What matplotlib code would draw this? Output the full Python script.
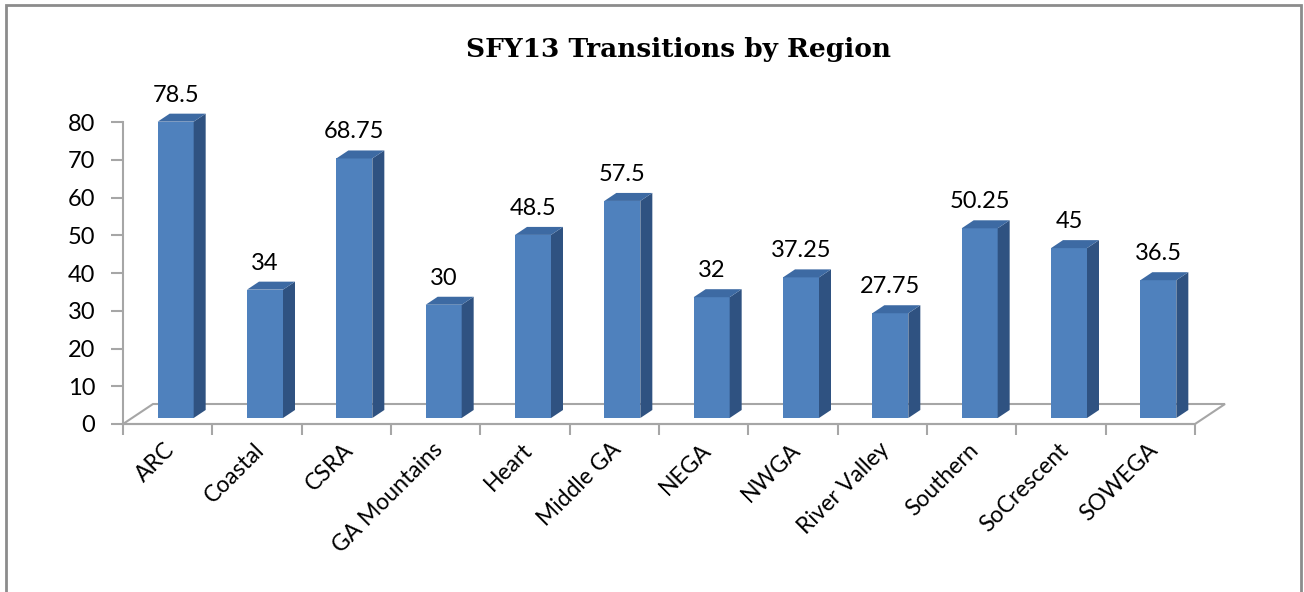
import matplotlib.pyplot as plt
from matplotlib.patches import Polygon, Rectangle

regions = ['ARC', 'Coastal', 'CSRA', 'GA Mountains', 'Heart', 'Middle GA', 'NEGA',
           'NWGA', 'River Valley', 'Southern', 'SoCrescent', 'SOWEGA']
transitions = [78.5, 34, 68.75, 30, 48.5, 57.5, 32, 37.25, 27.75, 50.25, 45, 36.5]
value_labels = ['78.5', '34', '68.75', '30', '48.5', '57.5', '32', '37.25', '27.75',
                '50.25', '45', '36.5']
yticks = [0, 10, 20, 30, 40, 50, 60, 70, 80]

FRONT = '#4f81bd'
SIDE = '#2f5281'
TOP = '#3d6aa3'
AXIS = '#a6a6a6'
FONT = 'Lato'

fig = plt.figure(figsize=(13.04, 5.92), dpi=100)
fig.patches.append(Rectangle((6 / 1304, -0.01), 1295 / 1304, 0.9985 - 4 / 592 + 0.01,
                             transform=fig.transFigure, fill=False,
                             edgecolor='#8c8c8c', linewidth=2))

ax = fig.add_axes([123 / 1304, 168 / 592, 1072 / 1304, 302 / 592])
ax.set_xlim(-0.5, len(regions) - 0.5)
ax.set_ylim(0, 80)

# pixel -> data conversion factors
px_x = len(regions) / 1072.0
px_y = 80 / 302.0

# floor (back edge offset)
fdx, fdy = 30 * px_x, 20 * px_y
n = len(regions)
ax.add_patch(Polygon([(-0.5, 0), (n - 0.5, 0), (n - 0.5 + fdx, fdy), (-0.5 + fdx, fdy)],
                     closed=True, facecolor='white', edgecolor=AXIS, linewidth=1.5,
                     clip_on=False, zorder=1))

# bars sit partway back on the floor
bw = 36 * px_x
sx, sy = 8 * px_x, 6 * px_y
ddx, ddy = 12 * px_x, 8 * px_y
for i, v in enumerate(transitions):
    x0 = i - bw / 2 + sx
    x1 = x0 + bw
    ax.bar(x0, v, width=bw, bottom=sy, align='edge', color=FRONT,
           edgecolor='none', zorder=3, clip_on=False)
    ax.add_patch(Polygon([(x1, sy), (x1 + ddx, sy + ddy), (x1 + ddx, sy + v + ddy), (x1, sy + v)],
                         closed=True, facecolor=SIDE, edgecolor='none', zorder=3, clip_on=False))
    ax.add_patch(Polygon([(x0, sy + v), (x1, sy + v), (x1 + ddx, sy + v + ddy), (x0 + ddx, sy + v + ddy)],
                         closed=True, facecolor=TOP, edgecolor='none', zorder=3, clip_on=False))
    ax.text(i + sx, sy + v + ddy + 8 * px_y, value_labels[i], ha='center', va='bottom',
            fontsize=17, family=FONT, color='black')

for side in ['top', 'right']:
    ax.spines[side].set_visible(False)
for side in ['left', 'bottom']:
    ax.spines[side].set_color(AXIS)
    ax.spines[side].set_linewidth(1.5)

ax.set_yticks(yticks)
ax.set_yticklabels([str(t) for t in yticks], fontsize=17, family=FONT)
ax.tick_params(axis='y', length=9, width=1.5, color=AXIS, pad=11)

ax.set_xticks([i - 0.5 for i in range(n + 1)], minor=False)
ax.set_xticklabels([''] * (n + 1))
ax.tick_params(axis='x', length=8, width=1.5, color=AXIS)
for i, r in enumerate(regions):
    ax.text(i - 0.04, -4.0, r, rotation=45, ha='right', va='top', rotation_mode='anchor',
            fontsize=16.5, family=FONT)

fig.text(678 / 1304, 1 - 50 / 592, 'SFY13 Transitions by Region', ha='center', va='center',
         fontsize=19, fontweight='bold', family='DejaVu Serif')

fig.savefig('out.png', dpi=100)
